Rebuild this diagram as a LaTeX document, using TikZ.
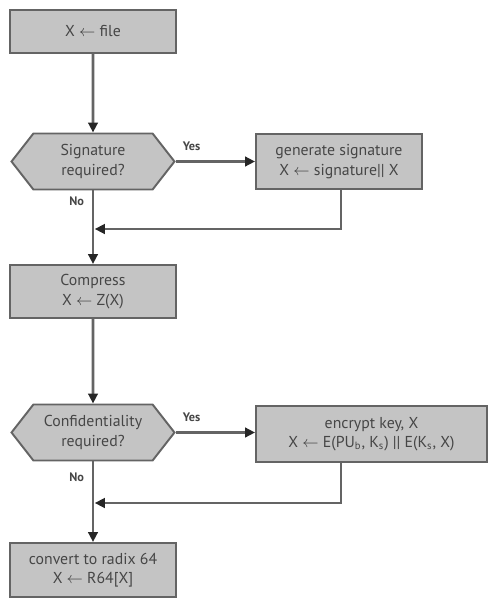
\documentclass[tikz,border=0pt]{standalone}
\usepackage{fontspec}
\setmainfont{PT Sans}
\usetikzlibrary{arrows.meta,shapes.symbols}
\definecolor{boxgray}{RGB}{196,196,196}
\definecolor{linegray}{RGB}{100,100,100}
\definecolor{txtgray}{RGB}{70,70,70}
\tikzset{
  stepbox/.style={draw=linegray,line width=1.1pt,fill=boxgray,text=txtgray,align=center,minimum width=3.32cm,minimum height=1.08cm,inner sep=1pt},
  choice/.style={draw=linegray,line width=1.1pt,fill=boxgray,text=txtgray,align=center,shape=signal,signal to=east and west,signal pointer angle=104,minimum width=3.26cm,minimum height=1.12cm,inner sep=1pt},
  flow/.style={draw=linegray,line width=1.6pt,-{Triangle[length=0.2cm,width=0.19cm,fill=black!85,color=black!85]}},
  answer/.style={font=\bfseries\scriptsize,text=txtgray}
}
\begin{document}
\begin{tikzpicture}[x=0.02cm,y=-0.02cm,font=\small]
\useasboundingbox (0,0) rectangle (488,599);
\node[stepbox,minimum height=0.86cm] (file) at (93,31.5) {X $\leftarrow$ file};
\node[choice] (sig) at (93,161.5) {Signature\\required?};
\node[stepbox,minimum height=1.1cm] (gen) at (339,161.5) {generate signature\\X $\leftarrow$ signature|| X};
\node[stepbox,minimum height=1.06cm] (comp) at (93,291.5) {Compress\\X $\leftarrow$ Z(X)};
\node[choice] (conf) at (93,432.5) {Confidentiality\\required?};
\node[stepbox,minimum width=4.62cm,minimum height=1.12cm] (enc) at (371.5,434) {encrypt key, X\\X $\leftarrow$ E(PU\textsubscript{b}, K\textsubscript{s}) || E(K\textsubscript{s}, X)};
\node[stepbox] (radix) at (93,570) {convert to radix 64\\X $\leftarrow$ R64[X]};
\coordinate (j1) at (93,229);
\coordinate (j2) at (93,503);
% signature branch
\draw[flow] (file) -- (sig);
\draw[flow] (sig.east) -- (sig.east -| gen.west) node[answer,pos=0.2,above=2pt] {Yes};
\draw[flow,shorten >=1pt] (gen.south -| 341,0) |- (j1);
\draw[flow] (sig.south) -- (comp.north) node[answer,pos=0.15,left=1pt] {No};
% confidentiality branch
\draw[flow] (comp) -- (conf);
\draw[flow] (conf.east) -- (conf.east -| enc.west) node[answer,pos=0.2,above=2pt] {Yes};
\draw[flow,shorten >=1pt] (enc.south -| 341,0) |- (j2);
\draw[flow] (conf.south) -- (radix.north) node[answer,pos=0.2,left=1pt] {No};
\end{tikzpicture}
\end{document}
